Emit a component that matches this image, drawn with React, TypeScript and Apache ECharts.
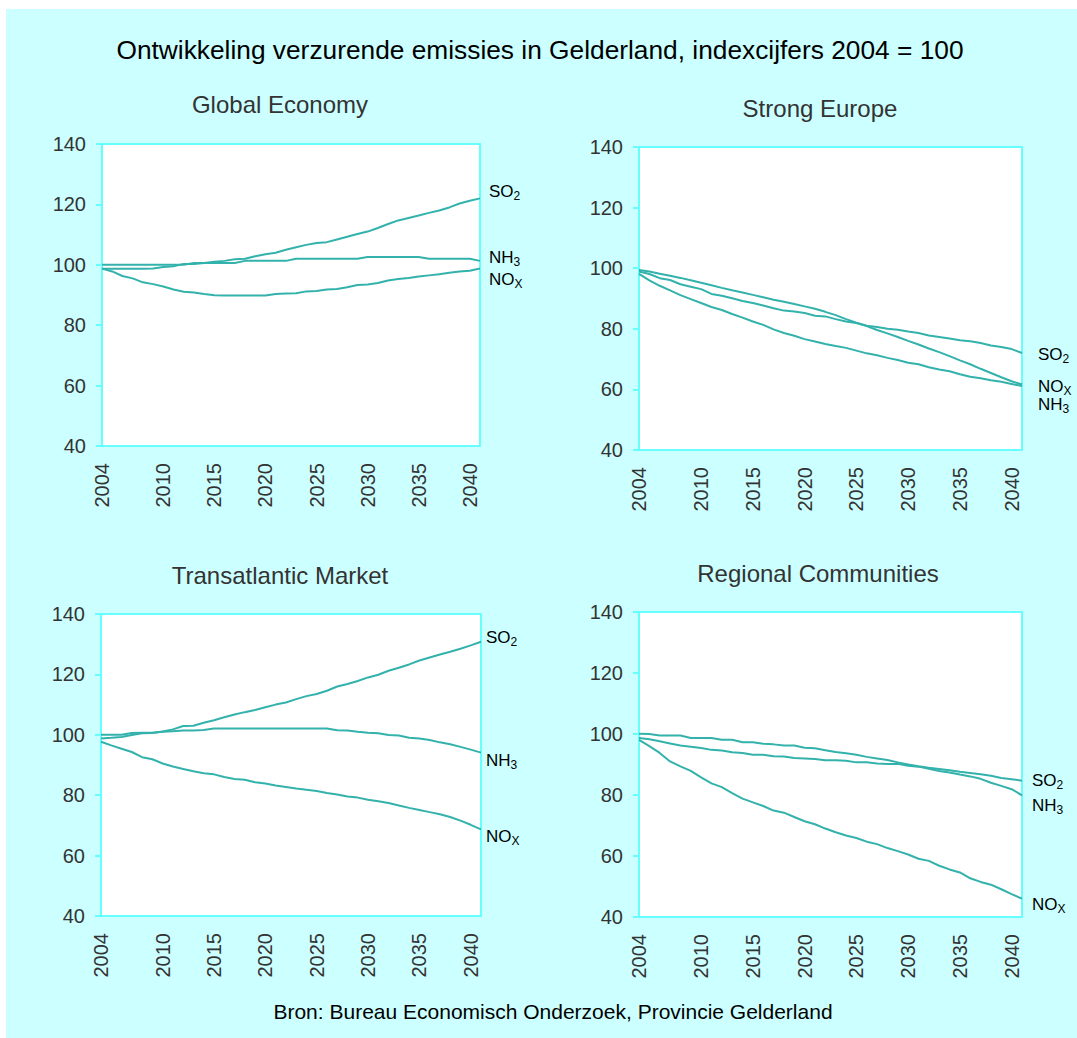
import React, { useEffect, useRef } from "react";
import * as echarts from "echarts";

// ---------- data ----------
const years = [
  "2004", "2005", "2006", "2007", "2008", "2009", "2010", "2011", "2012", "2013",
  "2014", "2015", "2016", "2017", "2018", "2019", "2020", "2021", "2022", "2023",
  "2024", "2025", "2026", "2027", "2028", "2029", "2030", "2031", "2032", "2033",
  "2034", "2035", "2036", "2037", "2038", "2039", "2040", "2041",
];
const xTickLabels = ["2004", "2010", "2015", "2020", "2025", "2030", "2035", "2040"];

const yTicks = { min: 40, max: 140, step: 20 };

// Global Economy
const geSO2 = [98.7, 98.7, 98.7, 98.7, 98.7, 98.8, 99.3, 99.5, 100.3, 100.3, 100.6, 101.0, 101.3, 101.8, 102.0, 102.8, 103.5, 104.0, 105.0, 105.8, 106.6, 107.2, 107.5, 108.4, 109.3, 110.2, 111.0, 112.2, 113.5, 114.7, 115.5, 116.3, 117.2, 118.0, 119.0, 120.3, 121.2, 122.0];
const geNH3 = [100, 100, 100, 100, 100, 100, 100, 100, 100, 100.6, 100.6, 100.6, 100.6, 100.6, 101.3, 101.3, 101.3, 101.3, 101.3, 102, 102, 102, 102, 102, 102, 102, 102.6, 102.6, 102.6, 102.6, 102.6, 102.6, 102, 102, 102, 102, 102, 101.3];
const geNOx = [98.8, 97.8, 96.3, 95.5, 94.2, 93.6, 92.8, 91.8, 91.1, 90.8, 90.3, 89.9, 89.8, 89.8, 89.8, 89.8, 89.8, 90.3, 90.5, 90.6, 91.2, 91.3, 91.8, 92.0, 92.6, 93.3, 93.5, 94.0, 94.8, 95.3, 95.6, 96.1, 96.5, 96.9, 97.4, 97.8, 98.0, 98.8];

// Strong Europe
const seSO2 = [98.9, 98.1, 96.7, 96.1, 94.7, 93.9, 93.1, 91.5, 90.9, 90.1, 89.2, 88.5, 87.7, 86.8, 86.0, 85.7, 85.2, 84.3, 84.1, 83.2, 82.4, 81.9, 81.0, 80.6, 80.0, 79.7, 79.1, 78.6, 77.8, 77.3, 76.8, 76.2, 75.9, 75.3, 74.5, 74.0, 73.3, 72.0];
const seNH3 = [98.1, 96.0, 94.2, 92.7, 91.1, 89.8, 88.5, 87.2, 86.2, 84.9, 83.7, 82.4, 81.3, 79.8, 78.6, 77.7, 76.6, 75.8, 75.0, 74.3, 73.7, 72.8, 71.9, 71.3, 70.4, 69.7, 68.8, 68.3, 67.3, 66.6, 66.0, 65.0, 64.2, 63.7, 63.0, 62.5, 61.8, 61.1];
const seNOx = [99.4, 98.9, 98.2, 97.5, 96.8, 96.0, 95.2, 94.4, 93.5, 92.7, 92.0, 91.2, 90.4, 89.6, 88.9, 88.2, 87.4, 86.6, 85.6, 84.5, 83.2, 82.0, 80.9, 79.6, 78.5, 77.3, 76.0, 74.8, 73.5, 72.3, 71.0, 69.6, 68.3, 66.8, 65.4, 64.0, 62.7, 61.6];

// Transatlantic Market
const tmSO2 = [98.8, 99.0, 99.3, 99.9, 100.5, 100.6, 101.1, 101.8, 102.9, 103.0, 104.0, 104.8, 105.8, 106.7, 107.5, 108.2, 109.1, 110.0, 110.7, 111.8, 112.8, 113.5, 114.6, 116.0, 116.8, 117.8, 119.0, 119.9, 121.2, 122.2, 123.3, 124.6, 125.6, 126.6, 127.5, 128.5, 129.6, 130.8];
const tmNH3 = [100, 100, 100, 100.6, 100.7, 100.7, 101.0, 101.2, 101.4, 101.4, 101.6, 102.1, 102.1, 102.1, 102.1, 102.1, 102.1, 102.1, 102.1, 102.1, 102.1, 102.1, 102.1, 101.5, 101.4, 101.0, 100.7, 100.5, 99.9, 99.8, 99.0, 98.8, 98.3, 97.5, 96.9, 96.0, 95.1, 94.1];
const tmNOx = [97.7, 96.5, 95.4, 94.3, 92.6, 91.9, 90.5, 89.5, 88.7, 87.9, 87.3, 86.9, 86.0, 85.4, 85.1, 84.3, 83.9, 83.2, 82.7, 82.2, 81.8, 81.4, 80.7, 80.2, 79.6, 79.2, 78.5, 78.0, 77.4, 76.6, 75.8, 75.1, 74.4, 73.7, 72.8, 71.6, 70.2, 68.7];

// Regional Communities
const rcSO2 = [100.1, 100.0, 99.5, 99.5, 99.5, 98.7, 98.7, 98.7, 98.1, 98.1, 97.3, 97.3, 96.8, 96.6, 96.2, 96.2, 95.5, 95.3, 94.7, 94.1, 93.7, 93.2, 92.5, 92.0, 91.5, 90.7, 90.0, 89.4, 88.9, 88.5, 88.1, 87.6, 87.2, 86.8, 86.3, 85.6, 85.2, 84.7];
const rcNH3 = [98.7, 98.3, 97.6, 96.9, 96.2, 95.8, 95.4, 94.8, 94.6, 94.0, 93.8, 93.2, 93.2, 92.7, 92.6, 92.1, 92.0, 91.8, 91.4, 91.4, 91.2, 90.7, 90.7, 90.3, 90.2, 90.2, 89.6, 89.3, 88.6, 87.9, 87.4, 86.7, 86.1, 85.3, 84.0, 83.0, 81.9, 79.9];
const rcNOx = [98.1, 96.0, 93.8, 91.0, 89.4, 87.9, 85.8, 83.8, 82.6, 80.6, 78.8, 77.6, 76.4, 74.9, 74.2, 72.8, 71.4, 70.4, 69.0, 67.8, 66.7, 65.9, 64.7, 63.9, 62.6, 61.6, 60.5, 59.1, 58.4, 56.8, 55.6, 54.6, 52.7, 51.5, 50.6, 49.1, 47.5, 46.0];

const mainTitle = "Ontwikkeling verzurende emissies in Gelderland, indexcijfers 2004 = 100";
const sourceText = "Bron: Bureau Economisch Onderzoek, Provincie Gelderland";
const panelTitles = ["Global Economy", "Strong Europe", "Transatlantic Market", "Regional Communities"];

// ---------- styling / layout ----------
const TEAL = "#33b2ac";
const CYAN = "#66ffff";
const BG = "#ccffff";
const FONT = "'Liberation Sans', Arial, Helvetica, sans-serif";

const panels = [
  {
    title: panelTitles[0], so2: geSO2, nh3: geNH3, nox: geNOx,
    grid: { left: 102, top: 144, width: 378, height: 302 },
    titlePos: [280, 104],
    labels: { so2: [489, 191], nh3: [489, 257], nox: [489, 279] },
  },
  {
    title: panelTitles[1], so2: seSO2, nh3: seNH3, nox: seNOx,
    grid: { left: 639, top: 147, width: 383, height: 303 },
    titlePos: [820, 108],
    labels: { so2: [1038, 354], nox: [1038, 386], nh3: [1038, 404] },
  },
  {
    title: panelTitles[2], so2: tmSO2, nh3: tmNH3, nox: tmNOx,
    grid: { left: 101, top: 614, width: 380, height: 302 },
    titlePos: [280, 575],
    labels: { so2: [486, 637], nh3: [486, 760], nox: [486, 836] },
  },
  {
    title: panelTitles[3], so2: rcSO2, nh3: rcNH3, nox: rcNOx,
    grid: { left: 639, top: 612, width: 383, height: 305 },
    titlePos: [818, 573],
    labels: { so2: [1032, 780], nh3: [1032, 805], nox: [1032, 904] },
  },
];

const labelTexts: Record<string, [string, string]> = {
  so2: ["SO", "2"],
  nh3: ["NH", "3"],
  nox: ["NO", "X"],
};

function textEl(text: string, x: number, y: number, size: number, color: string, align = "center") {
  return {
    type: "text",
    x,
    y,
    silent: true,
    style: {
      text,
      fill: color,
      fontSize: size,
      fontFamily: FONT,
      align,
      textAlign: align,
      verticalAlign: "middle",
      textVerticalAlign: "middle",
    },
  };
}

function subLabel(key: string, x: number, y: number) {
  const [main, sub] = labelTexts[key];
  return {
    type: "text",
    x,
    y,
    silent: true,
    style: {
      text: `{b|${main}}{s|${sub}}`,
      align: "left",
      textAlign: "left",
      verticalAlign: "middle",
      textVerticalAlign: "middle",
      rich: {
        b: { fontSize: 17, fontFamily: FONT, fill: "#000" },
        s: { fontSize: 12, fontFamily: FONT, fill: "#000", padding: [10, 0, 0, 0] },
      },
    },
  };
}

export default function App() {
  const ref = useRef<HTMLDivElement>(null);

  useEffect(() => {
    if (!ref.current) return;
    const chart = echarts.init(ref.current, null, { renderer: "svg" });

    const grids = panels.map((p) => ({
      ...p.grid,
      show: true,
      backgroundColor: "#ffffff",
      borderColor: CYAN,
      borderWidth: 2,
      containLabel: false,
    }));

    const xAxes = panels.map((_, i) => ({
      type: "category",
      gridIndex: i,
      data: years,
      boundaryGap: false,
      axisLine: { show: true, lineStyle: { color: CYAN, width: 2 } },
      axisTick: { show: false },
      splitLine: { show: false },
      axisLabel: {
        rotate: 90,
        fontSize: 20,
        color: "#333",
        fontFamily: FONT,
        margin: 17,
        hideOverlap: false,
        interval: (_idx: number, val: any) => xTickLabels.indexOf(String(val)) >= 0,
      },
    }));

    const yAxes = panels.map((_, i) => ({
      type: "value",
      gridIndex: i,
      min: yTicks.min,
      max: yTicks.max,
      interval: yTicks.step,
      axisLine: { show: true, lineStyle: { color: CYAN, width: 2 } },
      axisTick: { show: true, inside: false, length: 6, lineStyle: { color: CYAN, width: 2 } },
      splitLine: { show: false },
      axisLabel: { fontSize: 20, color: "#333", fontFamily: FONT, margin: 16 },
    }));

    const series: any[] = [];
    panels.forEach((p, i) => {
      [p.so2, p.nh3, p.nox].forEach((d, k) => {
        series.push({
          type: "line",
          name: `${p.title}-${["SO2", "NH3", "NOx"][k]}`,
          xAxisIndex: i,
          yAxisIndex: i,
          data: d,
          showSymbol: false,
          symbol: "none",
          silent: true,
          lineStyle: { color: TEAL, width: 2 },
          itemStyle: { color: TEAL },
        });
      });
    });

    const graphics: any[] = [
      { type: "rect", shape: { x: 0, y: 0, width: 1077, height: 9 }, style: { fill: "#ffffff" }, silent: true },
      { type: "rect", shape: { x: 0, y: 0, width: 6, height: 1038 }, style: { fill: "#ffffff" }, silent: true },
      textEl(mainTitle, 540, 50, 26.3, "#000"),
      textEl(sourceText, 553, 1011, 21, "#000"),
    ];
    panels.forEach((p) => {
      graphics.push(textEl(p.title, p.titlePos[0], p.titlePos[1], 24, "#333"));
      Object.entries(p.labels).forEach(([k, pos]) => {
        graphics.push(subLabel(k, pos[0], pos[1]));
      });
    });

    chart.setOption({
      animation: false,
      backgroundColor: BG,
      grid: grids,
      xAxis: xAxes,
      yAxis: yAxes,
      series,
      graphic: graphics,
    });

    return () => chart.dispose();
  }, []);

  return (
    <div
      ref={ref}
      style={{ position: "absolute", left: 0, top: 0, width: 1077, height: 1038 }}
    />
  );
}
